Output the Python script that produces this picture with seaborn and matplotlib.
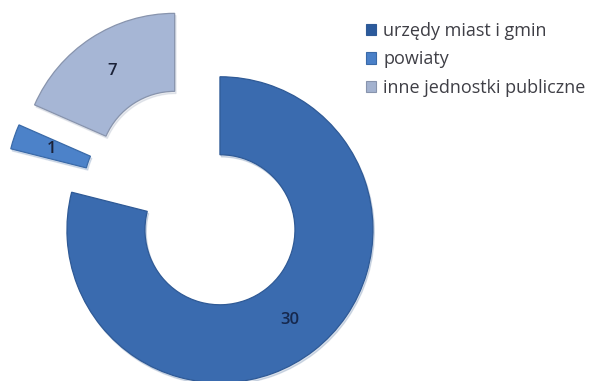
import matplotlib
matplotlib.use("Agg")
import matplotlib.pyplot as plt
from matplotlib.patches import Rectangle
import seaborn as sns

# Liczba jednostek według rodzaju
categories = ["urzędy miast i gmin", "powiaty", "inne jednostki publiczne"]
counts = [30, 1, 7]

sns.set_theme(style="white")
plt.rcParams["font.family"] = ["Open Sans", "DejaVu Sans"]

face_colors = ["#3a6baf", "#4c82c9", "#a6b6d5"]
edge_colors = ["#2f5a96", "#3a6aa8", "#8894ad"]

W, H = 612, 381
fig = plt.figure(figsize=(W / 100, H / 100), dpi=100)
ax = fig.add_axes([0, 0, 1, 1])

total = sum(counts)
radius = 153
wedges, texts, autotexts = ax.pie(
    counts,
    colors=face_colors,
    startangle=90,
    counterclock=False,
    radius=radius,
    center=(196, 182),
    explode=[39, 39, 39],
    wedgeprops=dict(width=78, linewidth=0.9),
    shadow=dict(ox=1.0, oy=-1.6, shade=0.2, alpha=0.18),
    autopct=lambda p: f"{round(p * total / 100)}",
    pctdistance=0.745,
    frame=True,
    textprops=dict(fontsize=12, color="#1b2238", fontweight="semibold"),
)
for w, ec in zip(wedges, edge_colors):
    w.set_edgecolor(ec)
autotexts[0].set_color("#16284d")

ax.set_xlim(0, W)
ax.set_ylim(0, H)
ax.set_aspect("equal")
ax.axis("off")

# Legend squares, shaded like the wedges
legend_fill = ["#2b5a9c", "#4a80c8", "#a3b2cf"]
handles = [Rectangle((0, 0), 1, 1, facecolor=fc, edgecolor=ec, linewidth=0.8)
           for fc, ec in zip(legend_fill, edge_colors)]
fig.legend(
    handles, categories,
    loc="upper left",
    bbox_to_anchor=(366 / W, 1 - 22 / H),
    frameon=False,
    fontsize=13,
    labelcolor="#3f3f46",
    handlelength=0.58,
    handleheight=0.58,
    handletextpad=0.38,
    labelspacing=0.58,
    borderpad=0,
    borderaxespad=0,
)

fig.savefig("out.png", dpi=100, facecolor="white")
